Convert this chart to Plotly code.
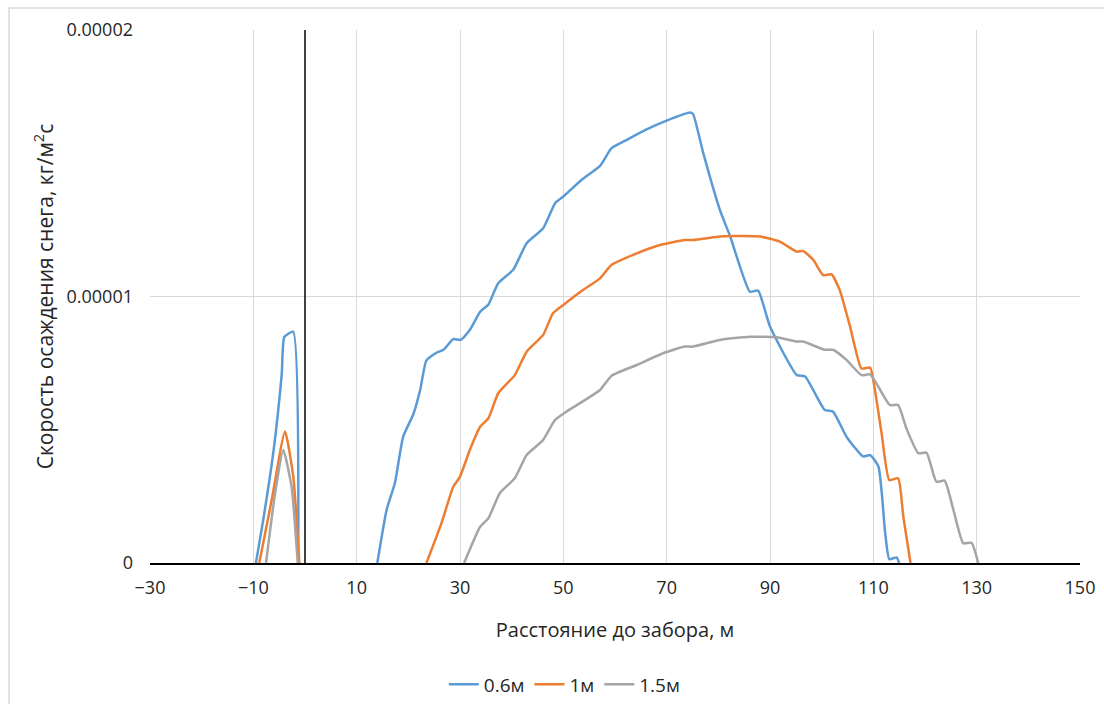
import plotly.graph_objects as go

# Distance to the fence, m (two segments per series: windward and leeward side)
x_06 = [-9.5, -8.1, -6.1, -4.5, -4.0, -2.3, -1.3, None,
        14.0, 15.8, 17.4, 19.0, 21.0, 22.3, 23.5, 25.5, 26.8, 28.7, 30.1, 31.9,
        33.9, 35.5, 37.4, 40.3, 42.9, 46.1, 48.4, 50.0, 53.5, 57.1, 59.3, 62.2,
        66.1, 70.0, 74.5, 75.1, 77.1, 80.3, 82.3, 86.1, 87.7, 90.0, 95.2, 96.8,
        100.6, 102.2, 104.8, 108.0, 109.4, 111.0, 112.3, 113.1, 114.5, 115.0]
y_06 = [0, 1.6e-6, 4.2e-6, 7.1e-6, 8.48e-6, 8.68e-6, 0, None,
        0, 2.0e-6, 3.0e-6, 4.74e-6, 5.6e-6, 6.5e-6, 7.6e-6, 7.9e-6, 8.0e-6, 8.4e-6, 8.37e-6, 8.74e-6,
        9.43e-6, 9.7e-6, 1.05e-5, 1.10e-5, 1.20e-5, 1.256e-5, 1.35e-5, 1.375e-5, 1.437e-5, 1.49e-5, 1.556e-5, 1.587e-5,
        1.627e-5, 1.66e-5, 1.69e-5, 1.685e-5, 1.537e-5, 1.325e-5, 1.225e-5, 1.018e-5, 1.022e-5, 8.87e-6, 7.05e-6, 7.0e-6,
        5.74e-6, 5.68e-6, 4.74e-6, 4.0e-6, 4.05e-6, 3.61e-6, 1.11e-6, 1.4e-7, 2.1e-7, 0]

x_10 = [-8.85, -6.45, -3.87, -2.27, -1.1, None,
        23.5, 26.4, 28.7, 30.0, 31.9, 33.9, 35.5, 37.4, 40.6, 42.9, 46.1, 48.0,
        50.0, 53.8, 57.1, 59.3, 63.5, 68.7, 73.5, 75.1, 80.3, 82.9, 88.1, 91.9,
        95.2, 96.4, 98.4, 100.3, 101.9, 103.5, 105.5, 107.7, 109.4, 110.3, 111.6,
        113.1, 114.8, 115.8, 117.2]
y_10 = [0, 2.36e-6, 4.93e-6, 3.24e-6, 0, None,
        0, 1.49e-6, 2.86e-6, 3.24e-6, 4.24e-6, 5.11e-6, 5.43e-6, 6.37e-6, 7.05e-6, 7.93e-6, 8.56e-6, 9.37e-6,
        9.68e-6, 1.024e-5, 1.068e-5, 1.118e-5, 1.156e-5, 1.193e-5, 1.212e-5, 1.212e-5, 1.225e-5, 1.227e-5, 1.225e-5, 1.206e-5,
        1.168e-5, 1.171e-5, 1.137e-5, 1.08e-5, 1.083e-5, 1.024e-5, 8.87e-6, 7.3e-6, 7.33e-6, 6.5e-6, 4.87e-6,
        3.11e-6, 3.18e-6, 1.74e-6, 0]

x_15 = [-7.55, -5.8, -4.2, -2.6, -1.4, None,
        30.8, 33.9, 35.5, 37.7, 40.6, 42.9, 46.1, 48.4, 50.6, 57.1, 59.3, 64.2,
        69.3, 73.5, 75.1, 80.3, 86.1, 91.3, 95.2, 96.4, 100.6, 102.2, 104.8, 107.7,
        109.4, 110.6, 113.2, 114.8, 116.4, 118.7, 120.3, 122.2, 123.8, 125.5, 127.4,
        129.0, 130.3]
y_15 = [0, 2.6e-6, 4.24e-6, 2.86e-6, 0, None,
        0, 1.36e-6, 1.68e-6, 2.62e-6, 3.18e-6, 4.05e-6, 4.62e-6, 5.37e-6, 5.68e-6, 6.49e-6, 7.02e-6, 7.43e-6,
        7.87e-6, 8.12e-6, 8.12e-6, 8.37e-6, 8.49e-6, 8.47e-6, 8.31e-6, 8.31e-6, 8.0e-6, 8.0e-6, 7.62e-6, 7.05e-6,
        7.08e-6, 6.74e-6, 5.93e-6, 5.93e-6, 5.05e-6, 4.12e-6, 4.14e-6, 3.05e-6, 3.09e-6, 1.99e-6, 7.4e-7,
        7.6e-7, 0]

series_names = ["0.6м", "1м", "1.5м"]
series_colors = ["#5B9BD5", "#ED7D31", "#A5A5A5"]

y_tickvals = [0, 1e-5, 2e-5]
y_ticktext = ["0", "0.00001", "0.00002"]

FONT = "Open Sans, sans-serif"
TEXT = "#262626"

fig = go.Figure()
for xs, ys, name, color in zip([x_06, x_10, x_15], [y_06, y_10, y_15],
                               series_names, series_colors):
    fig.add_trace(go.Scatter(
        x=xs, y=ys, name=name, mode="lines",
        line=dict(color=color, width=2.5, shape="spline", smoothing=0.5),
        connectgaps=False,
    ))

# fence position
fig.add_shape(type="line", xref="x", yref="y", x0=0, x1=0, y0=0, y1=2e-5,
              line=dict(color="black", width=1.5), layer="above")

# outer chart frame
fig.add_shape(type="rect", xref="paper", yref="paper",
              x0=-0.1516, x1=1.04, y0=-0.3, y1=1.0413,
              line=dict(color="#D9D9D9", width=1.5), fillcolor="rgba(0,0,0,0)",
              layer="below")

fig.update_layout(
    width=1104, height=704,
    margin=dict(l=150, r=24, t=30, b=141, autoexpand=False),
    paper_bgcolor="white", plot_bgcolor="white",
    font=dict(family=FONT, color=TEXT),
    showlegend=True,
    legend=dict(orientation="h", x=0.446, xanchor="center",
                yref="container", y=0.028, yanchor="middle",
                font=dict(size=19, color=TEXT, family=FONT)),
    xaxis=dict(
        range=[-30, 150], tick0=-30, dtick=20, tickmode="linear",
        showgrid=True, gridcolor="#D9D9D9", gridwidth=1,
        zeroline=False, showline=True, linecolor="black", linewidth=2,
        ticks="", tickfont=dict(size=18, color=TEXT, family=FONT),
        ticklabelstandoff=7, automargin=False,
        title=dict(text="Расстояние до забора, м", font=dict(size=20, color=TEXT, family=FONT),
                   standoff=25),
    ),
    yaxis=dict(
        range=[0, 2e-5], tickmode="array", tickvals=y_tickvals, ticktext=y_ticktext,
        showgrid=True, gridcolor="#D9D9D9", gridwidth=1,
        zeroline=False, showline=False, ticks="",
        tickfont=dict(size=18, color=TEXT, family=FONT),
        ticklabelstandoff=16, automargin=False,
        title=dict(text="Скорость осаждения снега, кг/м<sup>2</sup>с",
                   font=dict(size=21, color=TEXT, family=FONT), standoff=7),
    ),
)

fig.write_html("out.html")
